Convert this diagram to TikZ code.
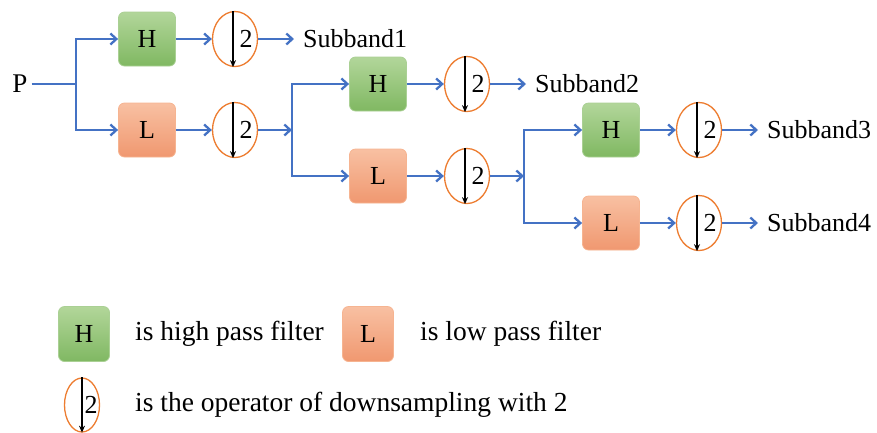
\documentclass[tikz,border=0pt]{standalone}
\usepackage{fontspec}
\setmainfont{Liberation Serif}
\usetikzlibrary{arrows.meta,shapes.geometric}
\definecolor{cblue}{RGB}{68,114,196}
\definecolor{corange}{RGB}{237,125,49}
\definecolor{gtop}{RGB}{178,214,154}
\definecolor{gbot}{RGB}{128,184,98}
\definecolor{gline}{RGB}{170,208,148}
\definecolor{otop}{RGB}{248,192,162}
\definecolor{obot}{RGB}{240,152,112}
\definecolor{oline}{RGB}{246,180,145}
\tikzset{
  txt/.style={font=\fontsize{26}{30}\selectfont, inner sep=0pt},
  ltxt/.style={font=\fontsize{27.5}{32}\selectfont, inner sep=0pt},
  hbox/.style={txt, rounded corners=6pt, top color=gtop, bottom color=gbot, draw=gline, line width=0.8pt, minimum width=57pt, minimum height=54pt},
  lbox/.style={txt, rounded corners=6pt, top color=otop, bottom color=obot, draw=oline, line width=0.8pt, minimum width=57pt, minimum height=54pt},
  dsnode/.style={ellipse, draw=corange, line width=1.3pt, fill=white, minimum width=45pt, minimum height=55pt, inner sep=0pt},
  darr/.style={black, line width=1.8pt, -{Stealth[length=7pt,width=6pt]}},
  conn/.style={cblue, line width=2.3pt, -{Straight Barb[length=6pt,width=11pt]}},
  plain/.style={cblue, line width=2.3pt},
}
\begin{document}
\begin{tikzpicture}[x=1pt,y=-1pt]
\useasboundingbox (0,0) rectangle (877,432);
% main chain
\node[txt, font=\fontsize{27}{30}\selectfont] (P) at (20,84) {P};
\coordinate (J1) at (76,84);
\node[hbox] (H1) at (147,39) {H};
\node[lbox] (L1) at (147,130) {L};
\node[dsnode] (D1) at (235,39) {};
\node[dsnode] (D2) at (235,130) {};
\node[txt, anchor=west] (S1) at (303,39) {Subband1};
\coordinate (J2) at (292,130);
\node[hbox] (H2) at (378,84) {H};
\node[lbox] (L2) at (378,176) {L};
\node[dsnode] (D3) at (467,84) {};
\node[dsnode] (D4) at (467,176) {};
\node[txt, anchor=west] (S2) at (535,84) {Subband2};
\coordinate (J3) at (524,176);
\node[hbox] (H3) at (611,130) {H};
\node[lbox] (L3) at (611,223) {L};
\node[dsnode] (D5) at (699,130) {};
\node[dsnode] (D6) at (699,223) {};
\node[txt, anchor=west] (S3) at (767,130) {Subband3};
\node[txt, anchor=west] (S4) at (767,223) {Subband4};
% legend
\node[hbox, minimum width=51pt, minimum height=55pt] (HL) at (84,334) {H};
\node[ltxt, anchor=west] (HT) at (135,334) {is high pass filter};
\node[lbox, minimum width=51pt, minimum height=55pt] (LL) at (368,334) {L};
\node[ltxt, anchor=west] (LT) at (420,334) {is low pass filter};
\node[dsnode, minimum width=35pt, minimum height=54pt] (DL) at (82,405) {};
\node[ltxt, anchor=west] (DT) at (135,405) {is the operator of downsampling with 2};
% downsampling marks
\foreach \n in {D1,D2,D3,D4,D5,D6}{
  \draw[darr] ([xshift=-2pt]\n.north) -- ([xshift=-2pt]\n.south);
  \node[txt] (\n two) at ([xshift=11pt]\n.center) {2};
}
\draw[darr] (DL.north) -- (DL.south);
\node[txt] (DLtwo) at ([xshift=9pt]DL.center) {2};
% connectors
\draw[plain] ([xshift=4pt]P.east) -- (J1);
\draw[conn] (J1) |- (H1.west);
\draw[conn] (J1) |- (L1.west);
\draw[conn] (H1.east) -- (D1.west);
\draw[conn] (L1.east) -- (D2.west);
\draw[conn, shorten >=9pt] (D1.east) -- (S1.west);
\draw[conn] (D2.east) -- (J2);
\draw[conn] (J2) |- (H2.west);
\draw[conn] (J2) |- (L2.west);
\draw[conn] (H2.east) -- (D3.west);
\draw[conn] (L2.east) -- (D4.west);
\draw[conn, shorten >=9pt] (D3.east) -- (S2.west);
\draw[conn] (D4.east) -- (J3);
\draw[conn] (J3) |- (H3.west);
\draw[conn] (J3) |- (L3.west);
\draw[conn] (H3.east) -- (D5.west);
\draw[conn] (L3.east) -- (D6.west);
\draw[conn, shorten >=9pt] (D5.east) -- (S3.west);
\draw[conn, shorten >=9pt] (D6.east) -- (S4.west);
\end{tikzpicture}
\end{document}
